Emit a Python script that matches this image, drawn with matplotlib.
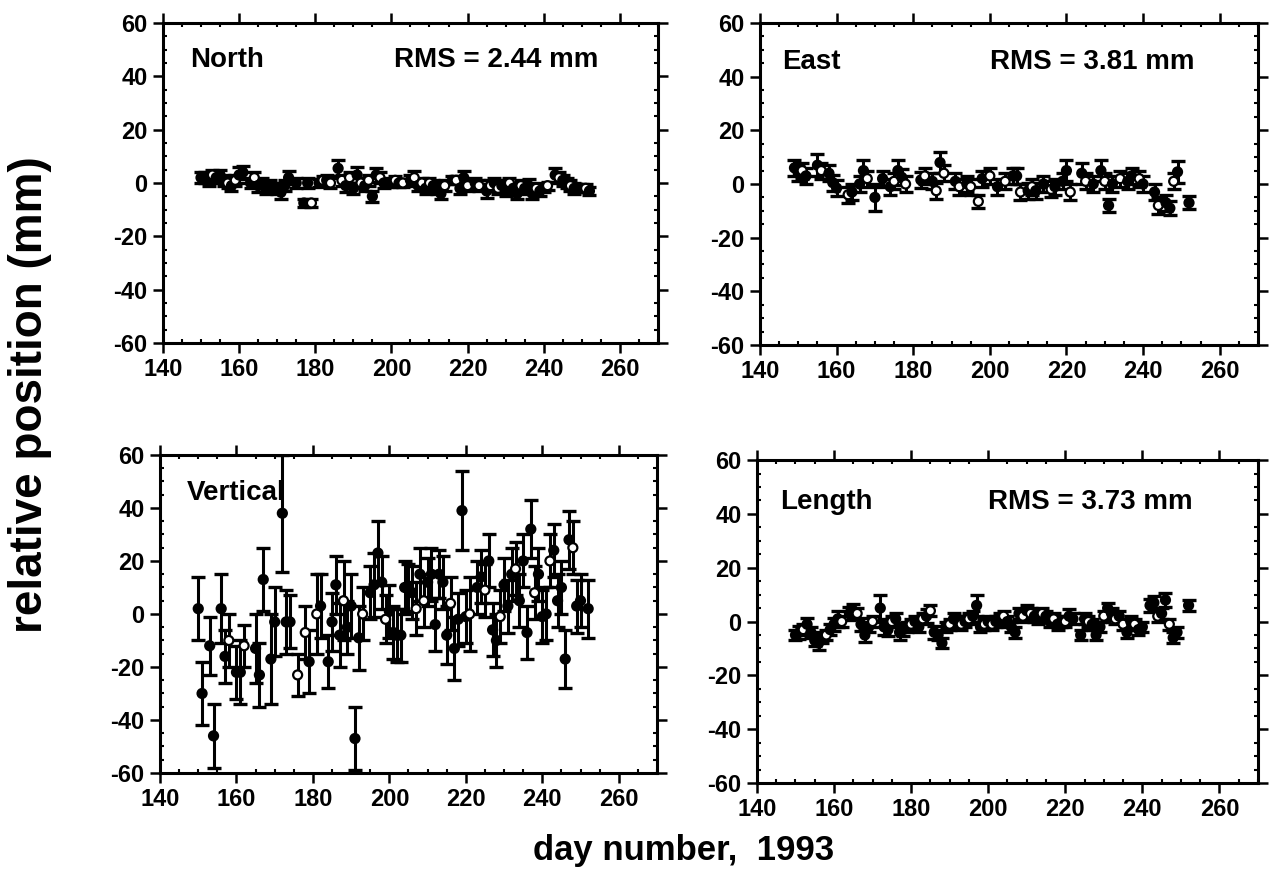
import matplotlib
matplotlib.use("Agg")
import matplotlib.pyplot as plt
from matplotlib.ticker import MultipleLocator

plt.rcParams['font.family'] = ['Liberation Sans', 'DejaVu Sans']
plt.rcParams['font.weight'] = 'bold'
plt.rcParams['axes.unicode_minus'] = False

# ---- data (day, value mm, 1-sigma mm) ----
north_day = [150, 151, 152, 153, 154, 155, 156, 157, 158, 159, 160, 161, 163, 164, 165, 166, 167, 168,
             170, 171, 172, 173, 175, 177, 178, 179, 181, 182, 183, 184, 186, 187, 188, 189, 190, 191,
             192, 193, 194, 195, 196, 197, 198, 200, 201, 202, 203, 205, 206, 207, 208, 209, 210, 211,
             212, 213, 214, 216, 217, 218, 219, 220, 222, 223, 225, 226, 227, 228, 229, 230, 231, 232,
             233, 234, 235, 236, 237, 238, 239, 240, 241, 243, 244, 245, 246, 247, 248, 250, 251, 252]
north_val = [2, 2, 1, 3, 2, 3, 1, 0, -1, 1, 3, 4, 0, 2, -1, 0, -2, -1,
             -2, -3.5, -1, 2, 0, -7.5, 0, -7.5, 0, 1, 1, 0, 5.5, 1, -1, 2, -2, 3,
             0, -1, 1, -5, 3, 2, 0, 0, 1, 0, 0, 1, 2, -1, 0, -2, 0, -1,
             -2, -4, -1, 1, 1, -2, 2, -1, 0, -1, -3, -1, 0, -2, -1, -3, 0, -2,
             -4, -1, -2, -1, -4, -2, -3, -2, -1, 3, 2, 1, 0, -1, -2, -2, -2, -3]
north_err = [2, 2, 2, 2, 2, 2, 2, 2, 2, 2, 3, 2.5, 2, 2, 2.5, 2, 2, 2,
             2, 2.5, 2, 2.5, 2, 1.5, 2, 1.5, 1.5, 1.5, 2, 2, 3, 2, 2.5, 2, 2, 3,
             2, 2, 2, 2, 2.5, 2, 2, 1.5, 1.5, 1.5, 1.5, 2, 2.5, 2, 2, 2, 2, 2,
             2, 2, 2, 1.5, 1.5, 2, 2.5, 2, 2, 2, 2.5, 2, 2, 2, 2, 2, 2, 2,
             2, 2, 2, 2.5, 2, 2, 2, 1.5, 1.5, 2.5, 2, 2, 2, 2, 2, 1.5, 1.5, 1.5]
north_open = [153, 157, 159, 164, 179, 182, 184, 187, 189, 192, 194, 197, 201, 203, 206, 208,
              210, 214, 217, 220, 223, 226, 228, 231, 234, 238, 241, 244, 247, 251]

east_day = [149, 150, 151, 152, 155, 156, 158, 159, 160, 163, 164, 166, 167, 168, 170, 172, 174, 175,
            176, 177, 178, 182, 183, 185, 186, 187, 188, 191, 192, 194, 195, 197, 198, 200, 202, 204,
            206, 207, 208, 210, 211, 212, 214, 216, 217, 219, 220, 221, 224, 225, 227, 229, 230, 231,
            232, 234, 236, 237, 239, 240, 243, 244, 246, 247, 248, 249, 252]
east_val = [6, 4, 5, 3, 7, 5, 4, 0.5, -1.5, -4, -3, 0, 5, 2, -5, 2, -1, 1,
            5, 2.5, 0, 1.5, 3, 1, -2.5, 8, 4, 1, -1, 0, -1, -6.5, 2, 3, -1, 1,
            3, 3, -3, -2.5, -1, -2.5, 0, -2, -1, 1, 5, -3, 4, 1, 0, 5, 1, -8,
            0, 2, 1, 3, 2, 0, -3, -8, -7, -9, 1, 4.5, -7]
east_err = [3, 3, 3, 3, 4, 3, 3, 3, 3, 3, 3, 3, 4, 3, 5, 3, 3, 3,
            4, 3, 3, 3, 3, 3, 3, 4, 3, 3, 3, 3, 3, 2.5, 3, 3, 3, 3,
            3, 3, 3, 3, 3, 3, 3, 3, 3, 3, 4, 3, 4, 3, 3, 4, 3, 2.5,
            3, 3, 3, 3, 3, 3, 3, 3, 3, 2.5, 3, 4, 2.5]
east_open = [151, 156, 163, 168, 175, 178, 183, 186, 188, 192, 195, 197, 200, 204, 208, 211,
             216, 221, 225, 230, 234, 239, 244, 248]

vert_day = [150, 151, 153, 154, 156, 157, 158, 160, 161, 162, 165, 166, 167, 169, 170, 172, 173, 174,
            176, 178, 179, 181, 182, 184, 185, 186, 187, 188, 189, 190, 191, 192, 193, 195, 196, 197,
            198, 199, 200, 201, 202, 203, 204, 205, 206, 207, 208, 209, 210, 211, 212, 213, 214, 215,
            216, 217, 218, 219, 220, 221, 223, 224, 225, 226, 227, 228, 229, 230, 231, 232, 233, 234,
            235, 236, 237, 238, 239, 240, 241, 242, 243, 244, 245, 246, 247, 248, 249, 250, 252]
vert_val = [2, -30, -12, -46, 2, -16, -10, -22, -22, -12, -13, -23, 13, -17, -3, 38, -3, -3,
            -23, -7, -18, 0, 3, -18, -3, 11, -8, 5, -5, 3, -47, -9, 0, 8, 11, 23,
            12, -2, 1, -7, -8, -8, 10, 10, 8, 2, 15, 5, 12, 15, -4, 15, 12, -8,
            4, -13, -2, 39, -1, 0, 10, 14, 9, 20, -6, -10, -1, 11, 3, 15, 17, 5,
            20, -7, 32, 8, 15, -1, 0, 20, 24, 5, 10, -17, 28, 25, 3, 5, 2]
vert_err = [12, 12, 11, 12, 13, 10, 10, 10, 12, 8, 13, 12, 12, 17, 13, 22, 12, 10,
            8, 10, 12, 15, 12, 10, 11, 11, 12, 15, 10, 12, 12, 12, 10, 10, 12, 12,
            10, 9, 10, 10, 10, 10, 10, 9, 10, 10, 10, 10, 9, 10, 10, 9, 10, 11,
            10, 12, 10, 15, 10, 14, 10, 10, 10, 10, 10, 10, 10, 10, 10, 10, 10, 10,
            10, 10, 11, 10, 10, 10, 10, 10, 10, 10, 10, 11, 11, 10, 10, 10, 11]
vert_open = [158, 162, 176, 178, 181, 188, 193, 199, 207, 209, 216, 221, 225, 229, 233, 238, 242, 248]

len_day = [150, 151, 152, 153, 154, 155, 156, 157, 158, 159, 160, 161, 162, 164, 165, 166, 167, 168,
           169, 170, 172, 173, 174, 175, 176, 177, 178, 179, 180, 181, 182, 183, 184, 185, 186, 187,
           188, 189, 190, 191, 192, 193, 194, 195, 196, 197, 198, 199, 200, 201, 202, 203, 204, 205,
           206, 207, 208, 209, 210, 211, 212, 213, 214, 215, 216, 217, 218, 219, 220, 221, 222, 224,
           225, 226, 227, 228, 229, 230, 231, 232, 233, 234, 235, 236, 237, 238, 239, 240, 242, 243,
           244, 245, 246, 247, 248, 249, 252]
len_val = [-5, -4, -3, -1, -4, -7, -8, -6, -5, -3, -1, 1, 0, 3, 4, 3, -1, -5,
           -2, 0, 5, -2, -3, 0, 1, -4, -3, -2, -1, 0, -2, 1, 2, 4, -4, -5,
           -8, -2, -1, 1, 0, -1, 0, 1, 2, 6, -2, -1, 0, -1, 0, 1, 2, 0,
           -2, -4, 3, 2, 4, 3, 2, 1, 3, 2, 0, 1, -1, 0, 0, 2, 1, -5,
           1, 0, -1, -5, -2, 2, 5, 3, 1, 2, -1, -4, 0, -1, -3, -2, 6, 7,
           2, 3, 8, -1, -6, -4, 6]
len_err = [2, 2.5, 2, 2.5, 2, 2, 2.5, 2, 2, 2, 2.5, 3, 2, 2.5, 2.5, 2, 2.5, 2.5,
           2, 2, 5, 3, 2.5, 2, 2, 3, 2.5, 2, 2, 2, 2, 2, 2.5, 2, 2.5, 2,
           2, 2, 2, 2, 2, 2, 2, 2, 2, 4, 2, 2, 2, 2, 2, 2, 2, 2,
           2, 2, 2, 2, 2, 2, 2, 2, 2, 2, 2, 2, 2, 2, 2, 2.5, 2, 2,
           2, 2, 2, 2, 2, 2, 2, 2, 2, 2, 2, 2, 2, 2, 2, 2, 2.5, 2.5,
           2, 2, 2.5, 2, 2, 2, 2]
len_open = [152, 158, 162, 166, 170, 175, 180, 183, 185, 190, 193, 195, 199, 201, 204, 209,
            211, 214, 217, 220, 226, 230, 233, 235, 238, 244, 247]

panels = [
    ("North", "RMS = 2.44 mm", north_day, north_val, north_err, north_open),
    ("East", "RMS = 3.81 mm", east_day, east_val, east_err, east_open),
    ("Vertical", None, vert_day, vert_val, vert_err, vert_open),
    ("Length", "RMS = 3.73 mm", len_day, len_val, len_err, len_open),
]

# axes rectangles in figure fractions, and label positions inside the axes
rects = [
    [0.1284, 0.6107, 0.3901, 0.3632],
    [0.5989, 0.6084, 0.3924, 0.3655],
    [0.1261, 0.1226, 0.3916, 0.3610],
    [0.5965, 0.1112, 0.3948, 0.3666],
]
name_pos = [(0.055, 0.885), (0.044, 0.88), (0.054, 0.88), (0.046, 0.87)]
rms_pos = [(0.879, 0.885), (0.873, 0.88), None, (0.870, 0.87)]

fig = plt.figure(figsize=(12.69, 8.81), dpi=100)

for k, (name, rms, day, val, err, opn) in enumerate(panels):
    ax = fig.add_axes(rects[k])
    fill = ['white' if d in opn else 'black' for d in day]
    ax.errorbar(day, val, yerr=err, fmt='none', ecolor='black', elinewidth=2.2,
                capsize=5, capthick=2.4, zorder=2)
    ax.scatter(day, val, s=42, c=fill, edgecolors='black', linewidths=1.6, zorder=3)
    ax.set_xlim(140, 270)
    ax.set_ylim(-60, 60)
    ax.xaxis.set_major_locator(MultipleLocator(20))
    ax.xaxis.set_minor_locator(MultipleLocator(5))
    ax.yaxis.set_major_locator(MultipleLocator(20))
    ax.yaxis.set_minor_locator(MultipleLocator(5))
    ax.set_xticks(range(140, 261, 20))
    ax.tick_params(which='major', direction='out', length=7, width=1.8,
                   top=True, right=True, labelsize=17, pad=4)
    ax.tick_params(which='minor', direction='in', length=3, width=1.5, top=True, right=True)
    for lab in ax.get_xticklabels() + ax.get_yticklabels():
        lab.set_fontweight('bold')
    for sp in ax.spines.values():
        sp.set_linewidth(2.2)
    nx, ny = name_pos[k]
    ax.text(nx, ny, name, transform=ax.transAxes, fontsize=20, fontweight='bold',
            ha='left', va='center', zorder=1)
    if rms is not None:
        rx, ry = rms_pos[k]
        ax.text(rx, ry, rms, transform=ax.transAxes, fontsize=20, fontweight='bold',
                ha='right', va='center')

fig.text(0.024, 0.552, "relative position (mm)", rotation=90, fontsize=33,
         fontweight='bold', ha='center', va='center')
fig.text(0.539, 0.035, "day number,  1993", fontsize=25, fontweight='bold',
         ha='center', va='center')

fig.savefig("out.png", dpi=100)
